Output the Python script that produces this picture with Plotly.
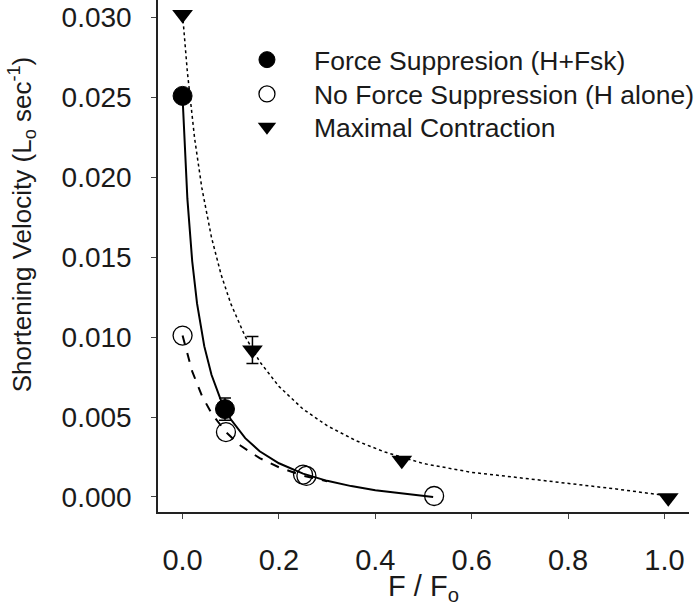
import plotly.graph_objects as go

# --- data ---
fs_x = [0.0, 0.088]
fs_y = [0.0251, 0.0055]
fs_err = [0.0, 0.0007]

nfs_x = [0.0, 0.09, 0.250, 0.257, 0.522]
nfs_y = [0.0101, 0.00406, 0.00140, 0.00132, 0.00006]

max_x = [0.0, 0.145, 0.455, 1.008]
max_y = [0.0302, 0.0092, 0.0023, -0.00005]
max_err = [0.0, 0.00085, 0.0, 0.0]

# fitted curves
fs_fit_x = [0.0, 0.01, 0.02, 0.03, 0.045, 0.06, 0.08, 0.10, 0.13, 0.16, 0.20, 0.25, 0.30, 0.35, 0.40, 0.46, 0.52]
fs_fit_y = [0.0250, 0.01865, 0.01475, 0.01211, 0.00944, 0.00765, 0.00601, 0.00486, 0.00368, 0.00286, 0.00211,
            0.00146, 0.00101, 0.00068, 0.00042, 0.00019, 0.0]

nfs_fit_x = [0.0, 0.02, 0.04, 0.06, 0.09, 0.12, 0.16, 0.20, 0.25, 0.30]
nfs_fit_y = [0.0101, 0.00786, 0.00634, 0.00524, 0.00406, 0.00322, 0.00243, 0.00186, 0.00133, 0.00098]

max_fit_x = [0.0, 0.01, 0.025, 0.04, 0.06, 0.08, 0.10, 0.13, 0.16, 0.20, 0.25, 0.30, 0.36, 0.42, 0.50, 0.60,
             0.70, 0.80, 0.90, 1.0]
max_fit_y = [0.0302, 0.02658, 0.02244, 0.01934, 0.01624, 0.01391, 0.0121, 0.01003, 0.00847, 0.00692, 0.0055,
             0.00446, 0.00352, 0.00281, 0.00209, 0.00154, 0.00120, 0.00087, 0.00050, 0.00010]

x_ticks = [0.0, 0.2, 0.4, 0.6, 0.8, 1.0]
y_ticks = [0.000, 0.005, 0.010, 0.015, 0.020, 0.025, 0.030]

FONT = "Arial, Liberation Sans, sans-serif"

fig = go.Figure()

fig.add_trace(go.Scatter(x=max_fit_x, y=max_fit_y, mode="lines", line=dict(color="black", width=1.5, dash="dot"),
                         showlegend=False, hoverinfo="skip"))
fig.add_trace(go.Scatter(x=nfs_fit_x, y=nfs_fit_y, mode="lines", line=dict(color="black", width=2, dash="dash"),
                         showlegend=False, hoverinfo="skip"))
fig.add_trace(go.Scatter(x=fs_fit_x, y=fs_fit_y, mode="lines", line=dict(color="black", width=2),
                         showlegend=False, hoverinfo="skip"))

fig.add_trace(go.Scatter(
    x=fs_x, y=fs_y, mode="markers", name="Force Suppresion (H+Fsk)", legend="legend",
    marker=dict(symbol="circle", size=19, color="black", line=dict(color="black", width=1)),
    error_y=dict(type="data", array=fs_err, symmetric=True, color="black", thickness=1.5, width=6),
))
fig.add_trace(go.Scatter(
    x=nfs_x, y=nfs_y, mode="markers", name="No Force Suppression (H alone)", legend="legend2",
    marker=dict(symbol="circle-open", size=19, color="black", line=dict(color="black", width=1.3)),
))
fig.add_trace(go.Scatter(
    x=max_x, y=max_y, mode="markers", name="Maximal Contraction", legend="legend3",
    marker=dict(symbol="triangle-down", size=18, color="black"),
    error_y=dict(type="data", array=max_err, symmetric=True, color="black", thickness=1.5, width=6),
))

leg = dict(x=0.1167, xanchor="left", yanchor="middle", bgcolor="rgba(0,0,0,0)",
           font=dict(size=26.5), itemsizing="trace", itemwidth=84)

fig.update_layout(
    width=700, height=606,
    margin=dict(l=158, r=2, t=0, b=94),
    paper_bgcolor="white", plot_bgcolor="white",
    font=dict(family=FONT, size=29, color="#1a1a1a"),
    showlegend=True,
    legend=dict(y=0.883, **leg),
    legend2=dict(y=0.816, **leg),
    legend3=dict(y=0.752, **leg),
    xaxis=dict(range=[-0.051, 1.051], tickvals=x_ticks, tickformat=".1f", showgrid=False, zeroline=False,
               showline=True, linecolor="#222", linewidth=1.5, ticks="outside", ticklen=5, tickcolor="#444",
               ticklabelstandoff=16, tickfont=dict(size=29),
               title=dict(text="F / F<sub>o</sub>", font=dict(size=29), standoff=2)),
    yaxis=dict(range=[-0.00094, 0.0311], tickvals=y_ticks, tickformat=".3f", showgrid=False, zeroline=False,
               showline=True, linecolor="#222", linewidth=1.5, ticks="outside", ticklen=5, tickcolor="#444",
               ticklabelstandoff=14, tickfont=dict(size=28), ticklabeloverflow="allow"),
    annotations=[dict(text="Shortening Velocity (L<sub>o</sub> sec<sup>-1</sup>)", xref="paper", yref="paper",
                      x=-0.257, y=0.561, textangle=-90, showarrow=False, xanchor="center", yanchor="middle",
                      font=dict(size=26))],
)
for tr in fig.data:
    tr.cliponaxis = False

fig.write_html("out.html", config={"displayModeBar": False},
               post_script="document.body.style.margin='0';")
